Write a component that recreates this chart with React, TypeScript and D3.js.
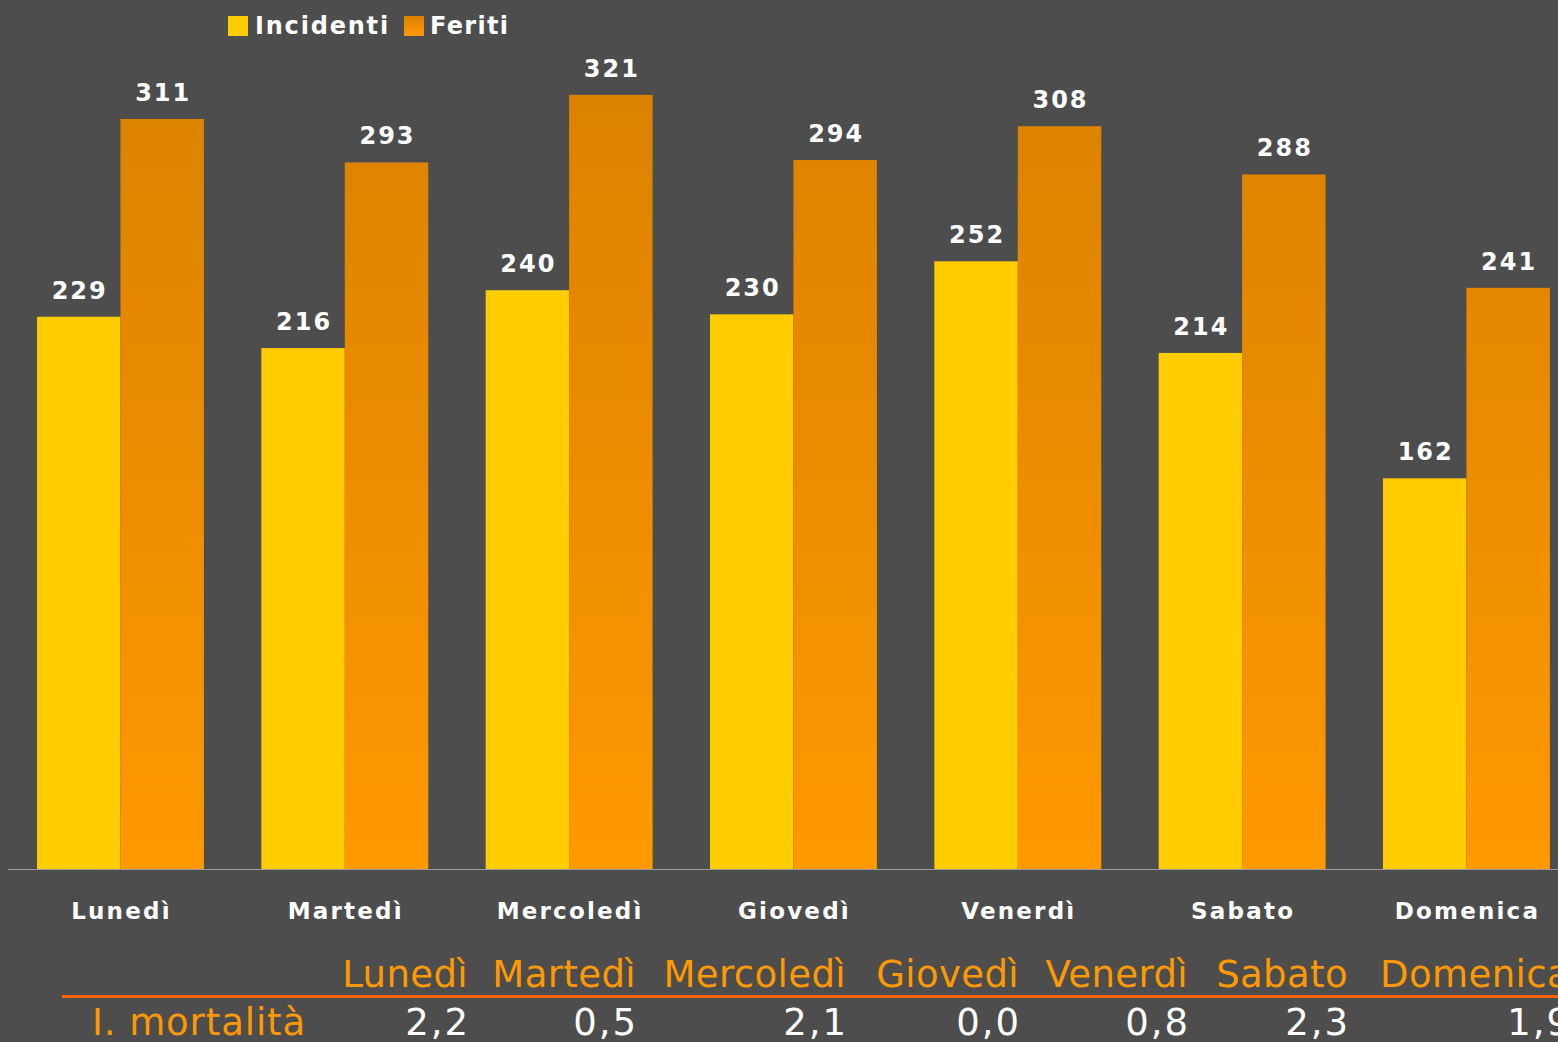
import React from "react";
import * as d3 from "d3";

const days = ["Lunedì", "Martedì", "Mercoledì", "Giovedì", "Venerdì", "Sabato", "Domenica"];
const incidenti = [229, 216, 240, 230, 252, 214, 162];
const feriti = [311, 293, 321, 294, 308, 288, 241];
const seriesNames = ["Incidenti", "Feriti"];
const mortalitaLabel = "I. mortalità";
const mortalita = ["2,2", "0,5", "2,1", "0,0", "0,8", "2,3", "1,9"];

const W = 1558;
const H = 1042;
const BG = "#4d4d4d";
const YELLOW = "#ffcc00";
const FONT = "'DejaVu Sans', Verdana, sans-serif";
// table column right edges (layout)
const colRight = [468, 636, 846, 1019, 1188, 1348, 1570];

export default function App() {
  const x = d3.scaleBand<string>().domain(days).range([8.3, 8.3 + 7 * 224.33]).paddingInner(0.256).paddingOuter(0.128);
  const xs = d3.scaleBand<string>().domain(seriesNames).range([0, x.bandwidth()]);
  const y = d3.scaleLinear().domain([0, 350]).range([869, 869 - 350 * 2.4116]);
  const bw = xs.bandwidth();
  return (
    <svg width={W} height={H} style={{ position: "absolute", left: 0, top: 0, background: BG }}>
      <defs>
        <linearGradient id="gFer" x1="0" y1="0" x2="0" y2="1">
          <stop offset="0%" stopColor="#db8200" />
          <stop offset="100%" stopColor="#ff9900" />
        </linearGradient>
        <linearGradient id="gFerBar" gradientUnits="userSpaceOnUse" x1="0" y1={y(321)} x2="0" y2={y(0)}>
          <stop offset="0%" stopColor="#db8200" />
          <stop offset="100%" stopColor="#ff9900" />
        </linearGradient>
      </defs>
      <rect x={0} y={0} width={W} height={H} fill={BG} />
      {/* legend */}
      <rect x={228} y={16} width={20} height={20} fill={YELLOW} />
      <text x={255} y={34} fill="#fff" fontFamily={FONT} fontWeight="bold" fontSize={24} letterSpacing={1.8}>{seriesNames[0]}</text>
      <rect x={404} y={16} width={20} height={20} fill="url(#gFer)" />
      <text x={430} y={34} fill="#fff" fontFamily={FONT} fontWeight="bold" fontSize={24} letterSpacing={1.3}>{seriesNames[1]}</text>
      {days.map((d, i) => {
        const x0 = x(d)!;
        const xi = x0 + xs(seriesNames[0])!;
        const xf = x0 + xs(seriesNames[1])!;
        return (
          <g key={d}>
            <rect x={xi} y={y(incidenti[i])} width={bw} height={y(0) - y(incidenti[i])} fill={YELLOW} />
            <rect x={xf} y={y(feriti[i])} width={bw} height={y(0) - y(feriti[i])} fill="url(#gFerBar)" />
            <text x={xi + bw / 2 + 1} y={y(incidenti[i]) - 18} textAnchor="middle" fill="#fff" fontFamily={FONT} fontWeight="bold" fontSize={24} letterSpacing={2}>{incidenti[i]}</text>
            <text x={xf + bw / 2 + 1} y={y(feriti[i]) - 18} textAnchor="middle" fill="#fff" fontFamily={FONT} fontWeight="bold" fontSize={24} letterSpacing={2}>{feriti[i]}</text>
            <text x={x0 + x.bandwidth() / 2 + 1} y={919} textAnchor="middle" fill="#fff" fontFamily={FONT} fontWeight="bold" fontSize={23} letterSpacing={2.2}>{d}</text>
          </g>
        );
      })}
      <line x1={8} x2={W} y1={869.5} y2={869.5} stroke="#9a9a9a" strokeWidth={1} />
      {/* table */}
      {days.map((d, i) => (
        <text key={"h" + d} x={colRight[i]} y={987} textAnchor="end" fill="#ff9900" fontFamily={FONT} fontSize={37} letterSpacing={0.4}>{d}</text>
      ))}
      <line x1={62} x2={W} y1={996.5} y2={996.5} stroke="#ff6600" strokeWidth={3} />
      <text x={92} y={1035} fill="#ff9900" fontFamily={FONT} fontSize={37} letterSpacing={0.9}>{mortalitaLabel}</text>
      {mortalita.map((v, i) => (
        <text key={"v" + i} x={colRight[i] + 2} y={1035} textAnchor="end" fill="#fff" fontFamily={FONT} fontSize={37} letterSpacing={2}>{v}</text>
      ))}
    </svg>
  );
}
